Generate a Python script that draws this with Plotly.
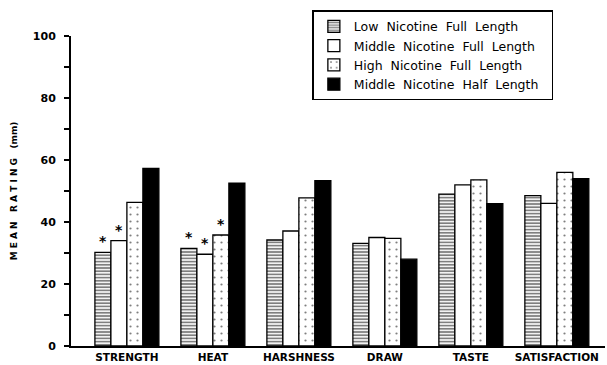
import plotly.graph_objects as go

categories = ["STRENGTH", "HEAT", "HARSHNESS", "DRAW", "TASTE", "SATISFACTION"]
series_names = [
    "Low  Nicotine  Full  Length",
    "Middle  Nicotine  Full  Length",
    "High  Nicotine  Full  Length",
    "Middle  Nicotine  Half  Length",
]
low_full = [30.2, 31.5, 34.2, 33.1, 49.0, 48.5]
mid_full = [34.0, 29.6, 37.1, 35.0, 52.0, 46.0]
high_full = [46.3, 35.8, 47.8, 34.7, 53.6, 56.0]
mid_half = [57.3, 52.5, 53.3, 28.0, 45.9, 54.0]
sig_low = [1, 1, 0, 0, 0, 0]
sig_mid = [1, 1, 0, 0, 0, 0]
sig_high = [0, 1, 0, 0, 0, 0]
sig_half = [0, 0, 0, 0, 0, 0]
ytick_vals = [0, 10, 20, 30, 40, 50, 60, 70, 80, 90, 100]
ytick_text = ["0", "", "20", "", "40", "", "60", "", "80", "", "100"]

values = [low_full, mid_full, high_full, mid_half]
sigs = [sig_low, sig_mid, sig_high, sig_half]
styles = [
    dict(color="white", pattern=dict(shape="-", fgcolor="black", bgcolor="white", size=3.2, solidity=0.55)),
    dict(color="white"),
    dict(color="white", pattern=dict(shape=".", fgcolor="black", bgcolor="white", size=7, solidity=0.08)),
    dict(color="black"),
]

fig = go.Figure()
for name, vals, sg, st in zip(series_names, values, sigs, styles):
    m = dict(st)
    m["line"] = dict(color="black", width=1.3)
    fig.add_trace(go.Bar(
        x=categories, y=vals, name=name.replace(" ", "\u00a0") + "\u00a0\u00a0",
        marker=m,
        text=["*" if s else "" for s in sg],
        textposition="outside",
        textfont=dict(size=14, color="black", family="DejaVu Sans", weight="bold"),
        cliponaxis=False,
    ))

fig.update_layout(
    width=607, height=365,
    margin=dict(l=71, r=2, t=36, b=16),
    paper_bgcolor="white", plot_bgcolor="white",
    barmode="group", bargap=0.256, bargroupgap=0,
    font=dict(family="Liberation Sans", color="black"),
    showlegend=True,
    legend=dict(
        x=0.452, y=1.083, xanchor="left", yanchor="top",
        bordercolor="black", borderwidth=1.5, bgcolor="white",
        font=dict(size=12.5, family="DejaVu Sans", color="black"),
        tracegroupgap=0, itemwidth=30,
    ),
    xaxis=dict(
        range=[-0.65, 5.56], showline=True, linecolor="black", linewidth=2,
        ticks="", showgrid=False, zeroline=False,
        tickfont=dict(size=10.5, family="DejaVu Sans", weight="bold"),
    ),
    yaxis=dict(
        range=[0, 100], showline=True, linecolor="black", linewidth=2,
        tickmode="array", tickvals=ytick_vals, ticktext=ytick_text,
        ticks="outside", ticklen=5, tickwidth=1.5, tickcolor="black",
        ticklabelstandoff=6,
        showgrid=False, zeroline=False,
        tickfont=dict(size=11, family="DejaVu Sans", weight="bold"),
        title=dict(text="M E A N   R A T I N G   (mm)", font=dict(size=9, family="DejaVu Sans", weight="bold"), standoff=14),
    ),
)

fig.write_html("out.html")
